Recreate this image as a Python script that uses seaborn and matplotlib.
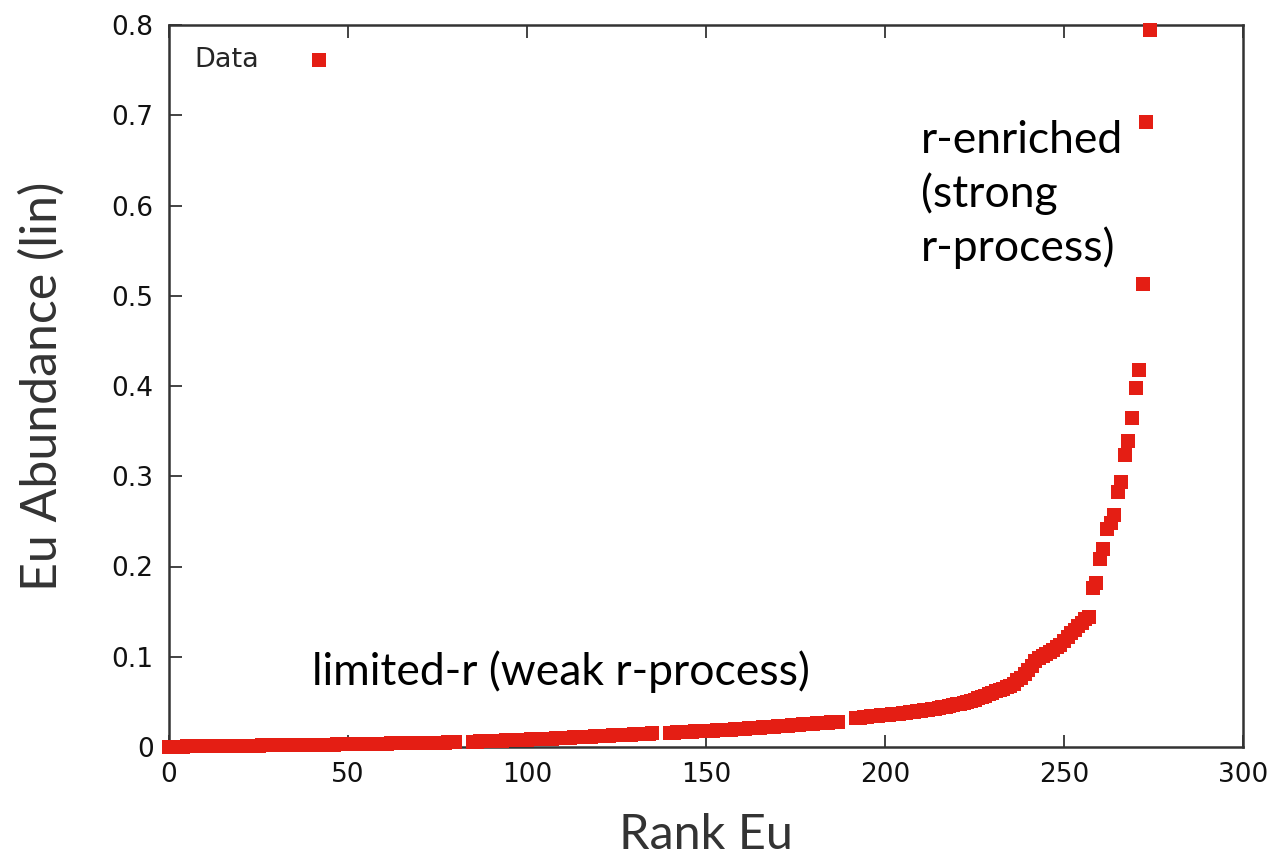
import matplotlib
matplotlib.use("Agg")
import matplotlib.pyplot as plt
import seaborn as sns
import pandas as pd

# ---- data ----
ranks_a = list(range(0, 81))
ranks_b = list(range(85, 136))
ranks_c = list(range(140, 188))
ranks_d = list(range(192, 275))

vals_a = [
    0.0002, 0.0003, 0.0004, 0.0005, 0.0005, 0.0006, 0.0007, 0.0007, 0.0008, 0.0008,
    0.0009, 0.0009, 0.0010, 0.0010, 0.0010, 0.0011, 0.0011, 0.0012, 0.0012, 0.0012,
    0.0013, 0.0013, 0.0014, 0.0014, 0.0015, 0.0016, 0.0017, 0.0018, 0.0018, 0.0019,
    0.0019, 0.0020, 0.0020, 0.0021, 0.0021, 0.0022, 0.0022, 0.0023, 0.0023, 0.0024,
    0.0024, 0.0025, 0.0025, 0.0026, 0.0026, 0.0027, 0.0027, 0.0028, 0.0028, 0.0029,
    0.0030, 0.0030, 0.0031, 0.0032, 0.0033, 0.0034, 0.0035, 0.0035, 0.0036, 0.0037,
    0.0037, 0.0038, 0.0039, 0.0039, 0.0040, 0.0041, 0.0041, 0.0042, 0.0043, 0.0043,
    0.0044, 0.0045, 0.0045, 0.0046, 0.0047, 0.0047, 0.0048, 0.0049, 0.0050, 0.0050,
    0.0051,
]
vals_b = [
    0.0058, 0.0060, 0.0062, 0.0063, 0.0065, 0.0066, 0.0068, 0.0070, 0.0071, 0.0073,
    0.0074, 0.0076, 0.0078, 0.0079, 0.0081, 0.0082, 0.0084, 0.0086, 0.0087, 0.0089,
    0.0090, 0.0092, 0.0094, 0.0096, 0.0098, 0.0100, 0.0102, 0.0104, 0.0106, 0.0108,
    0.0110, 0.0112, 0.0114, 0.0116, 0.0118, 0.0120, 0.0122, 0.0124, 0.0126, 0.0128,
    0.0130, 0.0132, 0.0134, 0.0136, 0.0138, 0.0140, 0.0142, 0.0144, 0.0146, 0.0148,
    0.0150,
]
vals_c = [
    0.0158, 0.0160, 0.0162, 0.0164, 0.0166, 0.0168, 0.0170, 0.0172, 0.0174, 0.0176,
    0.0178, 0.0180, 0.0182, 0.0184, 0.0186, 0.0188, 0.0190, 0.0192, 0.0194, 0.0196,
    0.0199, 0.0202, 0.0205, 0.0208, 0.0211, 0.0214, 0.0217, 0.0220, 0.0223, 0.0226,
    0.0229, 0.0232, 0.0235, 0.0238, 0.0241, 0.0244, 0.0247, 0.0250, 0.0253, 0.0256,
    0.0259, 0.0262, 0.0265, 0.0268, 0.0271, 0.0274, 0.0277, 0.0280,
]
vals_d = [
    0.0320, 0.0325, 0.0330, 0.0334, 0.0338, 0.0342, 0.0346, 0.0350, 0.0354, 0.0358,
    0.0362, 0.0366, 0.0370, 0.0375, 0.0380, 0.0385, 0.0390, 0.0395, 0.0400, 0.0406,
    0.0412, 0.0418, 0.0425, 0.0432, 0.0440, 0.0448, 0.0456, 0.0464, 0.0472, 0.0480,
    0.0490, 0.0500, 0.0512, 0.0525, 0.0540, 0.0555, 0.0570, 0.0585, 0.0600, 0.0615,
    0.0630, 0.0645, 0.0660, 0.0680, 0.0700, 0.0740, 0.0770, 0.0810, 0.0850, 0.0900,
    0.0950, 0.0990, 0.1010, 0.1030, 0.1050, 0.1080, 0.1110, 0.1130, 0.1180, 0.1220,
    0.1260, 0.1300, 0.1340, 0.1370, 0.1420, 0.1440, 0.1760, 0.1820, 0.2080, 0.2190,
    0.2410, 0.2480, 0.2570, 0.2830, 0.2940, 0.3240, 0.3390, 0.3640, 0.3980, 0.4180,
    0.5130, 0.6920, 0.7950,
]

x_ticks = [0, 50, 100, 150, 200, 250, 300]
y_ticks = [0, 0.1, 0.2, 0.3, 0.4, 0.5, 0.6, 0.7, 0.8]
y_tick_labels = ["0", "0.1", "0.2", "0.3", "0.4", "0.5", "0.6", "0.7", "0.8"]

df = pd.DataFrame({
    "rank": ranks_a + ranks_b + ranks_c + ranks_d,
    "eu": vals_a + vals_b + vals_c + vals_d,
})

RED = "#E41E14"

sns.set_theme(style="white")
plt.rcParams["font.family"] = ["DejaVu Sans"]

fig = plt.figure(figsize=(12.78, 8.59), dpi=100)
ax = fig.add_axes([169 / 1278, 1 - 747 / 859, (1243 - 169) / 1278, (747 - 25) / 859])

sns.scatterplot(data=df, x="rank", y="eu", ax=ax, marker="s", s=110,
                color=RED, linewidth=0, label="Data", zorder=3, clip_on=False)

ax.set_xlim(0, 300)
ax.set_ylim(0, 0.8)
ax.set_xticks(x_ticks)
ax.set_yticks(y_ticks)
ax.set_yticklabels(y_tick_labels)

for s in ax.spines.values():
    s.set_color("#333333")
    s.set_linewidth(1.8)
    s.set_visible(True)

ax.tick_params(axis="both", direction="in", length=9, width=1.2, color="#222222",
               labelsize=19, labelcolor="#111111", pad=11)
ax.tick_params(axis="x", top=True, bottom=True)
ax.tick_params(axis="y", left=True, right=False)

ax.set_xlabel("Rank Eu", fontfamily="Lato", fontsize=35, labelpad=18, color="#333333")
ax.set_ylabel("Eu Abundance (lin)", fontfamily="Lato", fontsize=36, labelpad=33,
              color="#333333")

leg = ax.legend(loc="upper left", bbox_to_anchor=(0.024, 0.970), frameon=False,
                markerfirst=False, fontsize=19.5, handletextpad=1.2, handlelength=2,
                borderpad=0, borderaxespad=0)

ax.text(40, 0.083, "limited-r (weak r-process)", fontfamily="Lato", fontsize=32,
        ha="left", va="center", color="black")
ax.text(210, 0.612, "r-enriched\n(strong\nr-process)", fontfamily="Lato", fontsize=32,
        ha="left", va="center", color="black", linespacing=1.33)

fig.savefig("out.png", dpi=100)
